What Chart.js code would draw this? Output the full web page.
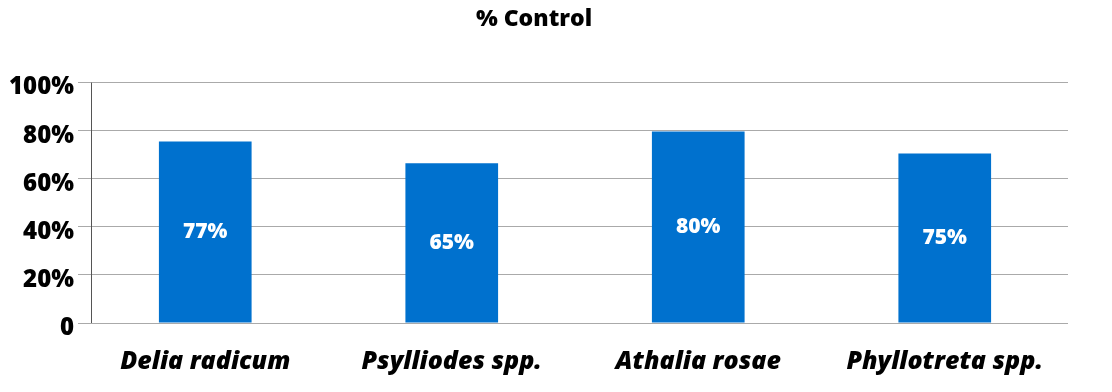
<!DOCTYPE html>
<html lang="en">
<head>
    <meta charset="UTF-8">
    <title>% Control</title>
    <script src="https://cdn.jsdelivr.net/npm/chart.js@4.4.1/dist/chart.umd.min.js"></script>
    <style>
        body {
            margin: 0;
            background: #ffffff;
        }
        .wrap {
            width: 1112px;
            height: 392px;
        }
    </style>
</head>
<body>
    <div class="wrap">
        <canvas id="myChart" width="1112" height="392"></canvas>
    </div>

<script>
const species = ["Delia radicum", "Psylliodes spp.", "Athalia rosae", "Phyllotreta spp."];
// bar heights as drawn
const controlValues = [75.5, 66.4, 79.7, 70.5];
// text printed on the bars
const barLabels = ["77%", "65%", "80%", "75%"];
const yTicks = [0, 20, 40, 60, 80, 100];

const fontFamily = "'Open Sans', Lato, sans-serif";

// white text in the middle of each bar
const barText = {
  id: "barText",
  afterDatasetsDraw(chart) {
    const ctx = chart.ctx;
    const meta = chart.getDatasetMeta(0);
    ctx.save();
    ctx.fillStyle = "#ffffff";
    ctx.font = "800 21px " + fontFamily;
    ctx.textAlign = "center";
    ctx.textBaseline = "middle";
    meta.data.forEach((bar, i) => {
      ctx.fillText(barLabels[i], bar.x, (bar.y + bar.base) / 2);
    });
    ctx.restore();
  }
};

// vertical axis line, sits a bit right of the grid start
const axisLine = {
  id: "axisLine",
  afterDraw(chart) {
    const a = chart.chartArea;
    const ctx = chart.ctx;
    ctx.save();
    ctx.strokeStyle = "#555555";
    ctx.lineWidth = 1;
    ctx.beginPath();
    ctx.moveTo(a.left + 9.5, a.top);
    ctx.lineTo(a.left + 9.5, a.bottom);
    ctx.stroke();
    ctx.restore();
  }
};

new Chart("myChart", {
  type: "bar",
  data: {
    labels: species,
    datasets: [{
      data: controlValues,
      backgroundColor: "#0071CE",
      barPercentage: 0.376,
      categoryPercentage: 1.0
    }]
  },
  options: {
    responsive: false,
    animation: false,
    layout: {
      padding: { left: 0, right: 44, top: 0, bottom: 0 }
    },
    plugins: {
      legend: { display: false },
      tooltip: { enabled: false },
      title: {
        display: true,
        text: "% Control",
        color: "#000000",
        font: { family: fontFamily, size: 23, weight: "800" },
        padding: { top: 6, bottom: 49 }
      }
    },
    scales: {
      x: {
        afterFit(scale) { scale.height = 69; },
        grid: { display: false, drawTicks: false },
        border: { display: false },
        ticks: {
          color: "#000000",
          padding: 24,
          maxRotation: 0,
          font: { family: fontFamily, size: 25, weight: "800", style: "italic" }
        }
      },
      y: {
        min: 0,
        max: 100,
        afterFit(scale) { scale.width = 82; },
        afterBuildTicks(scale) { scale.ticks = yTicks.map(v => ({ value: v })); },
        grid: {
          color: "#aaaaaa",
          lineWidth: 1,
          drawTicks: true,
          tickLength: 4
        },
        border: { display: false },
        ticks: {
          color: "#000000",
          padding: 4,
          labelOffset: 5,
          font: { family: fontFamily, size: 24, weight: "800" },
          callback: v => v === 0 ? "0" : v + "%"
        }
      }
    }
  },
  plugins: [barText, axisLine]
});
</script>
</body>
</html>
